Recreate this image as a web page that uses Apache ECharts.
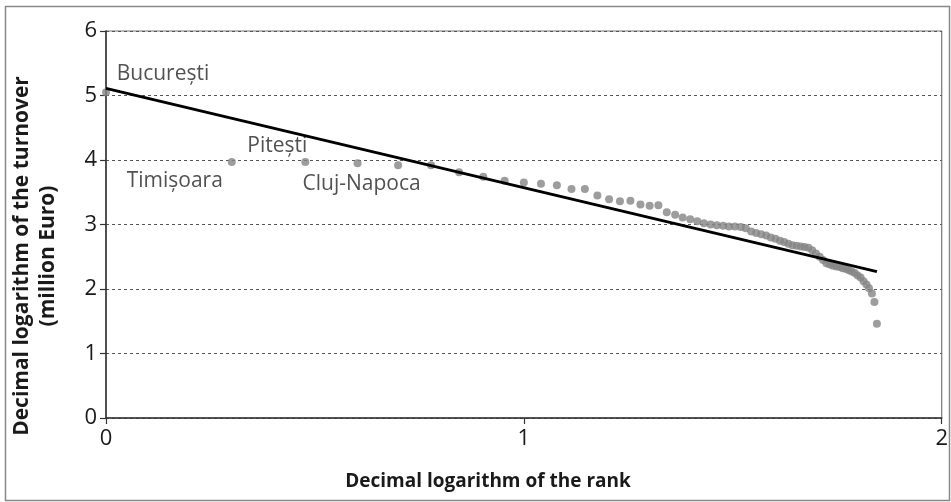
<!DOCTYPE html>
<html>
<head>
<meta charset="utf-8">
<script src="https://cdn.jsdelivr.net/npm/echarts@6/dist/echarts.min.js"></script>
<style>
html,body{margin:0;padding:0;background:#fff;}
#chart{width:951px;height:502px;}
</style>
</head>
<body>
<div id="chart"></div>
<script>
// log10(rank)
var logRank = [0,0.301,0.477,0.602,0.699,0.778,0.845,0.903,0.954,1.000,
  1.041,1.079,1.114,1.146,1.176,1.204,1.230,1.255,1.279,1.301,
  1.322,1.342,1.362,1.380,1.398,1.415,1.431,1.447,1.462,1.477,
  1.491,1.505,1.519,1.531,1.544,1.556,1.568,1.580,1.591,1.602,
  1.613,1.623,1.633,1.643,1.653,1.663,1.672,1.681,1.690,1.699,
  1.708,1.716,1.724,1.732,1.740,1.748,1.756,1.763,1.771,1.778,
  1.785,1.792,1.799,1.806,1.813,1.820,1.826,1.833,1.839,1.845];
// log10(turnover)
var logTurnover = [5.05,3.97,3.97,3.95,3.92,3.92,3.81,3.74,3.68,3.65,
  3.63,3.61,3.55,3.55,3.45,3.39,3.36,3.37,3.31,3.29,
  3.30,3.19,3.15,3.11,3.08,3.05,3.02,3.00,2.99,2.98,
  2.97,2.97,2.96,2.94,2.89,2.87,2.85,2.83,2.80,2.78,
  2.75,2.73,2.70,2.68,2.67,2.66,2.65,2.64,2.60,2.55,
  2.50,2.45,2.40,2.38,2.36,2.35,2.34,2.32,2.31,2.29,
  2.27,2.25,2.21,2.18,2.12,2.07,2.01,1.93,1.80,1.46];
var cityNames = ['București','Timișoara','Pitești','Cluj-Napoca'];
var cityIndex = [0,1,2,3];
var trendX = [0,1.845];
var trendY = [5.11,2.27];
var xTicks = [0,1,2];
var yTicks = [0,1,2,3,4,5,6];

var labelOffsets = [[57,-18],[-57,19],[-28,-16],[4,21]];
var scatterData = logRank.map(function(x,i){
  var item = {value:[x, logTurnover[i]]};
  var k = cityIndex.indexOf(i);
  if (k >= 0) {
    item.label = {show:true, formatter: cityNames[k], position:'inside',
      offset: labelOffsets[k], fontSize:21, color:'#262626',
      fontFamily:'Open Sans', align:'center', verticalAlign:'middle'};
  }
  return item;
});

var chart = echarts.init(document.getElementById('chart'), null, {renderer:'canvas'});
chart.setOption({
  animation:false,
  backgroundColor:'#fff',
  grid:{left:106, right:8, top:31, bottom:84, show:true, borderColor:'#777', borderWidth:1.2},
  xAxis:{type:'value', min:xTicks[0], max:xTicks[xTicks.length-1], interval:1,
    axisLine:{show:true, onZero:false, lineStyle:{color:'#333', width:1.5}},
    axisTick:{show:true, length:6, lineStyle:{color:'#333', width:1.2}},
    axisLabel:{fontSize:22, color:'#1a1a1a', fontFamily:'Open Sans', margin:10},
    splitLine:{show:false}},
  yAxis:{type:'value', min:yTicks[0], max:yTicks[yTicks.length-1], interval:1,
    axisLine:{show:true, onZero:false, lineStyle:{color:'#333', width:1.5}},
    axisTick:{show:true, length:6, lineStyle:{color:'#333', width:1.2}},
    axisLabel:{fontSize:22, color:'#1a1a1a', fontFamily:'Open Sans', margin:9},
    splitLine:{show:true, lineStyle:{color:'#555', type:[3,3], width:1}}},
  graphic:[
    {type:'rect', left:3, top:4, shape:{width:944, height:494}, silent:true, z:-10,
      style:{fill:null, stroke:'#888', lineWidth:1.5}},
    {type:'text', x:488, y:482, style:{text:'Decimal logarithm of the rank', font:'bold 19px "Open Sans"',
      fill:'#1a1a1a', textAlign:'center', textVerticalAlign:'middle'}},
    {type:'text', x:35, y:256, rotation:Math.PI/2,
      style:{text:'Decimal logarithm of the turnover\n(million Euro)', font:'bold 21px "Open Sans"',
      fill:'#1a1a1a', textAlign:'center', textVerticalAlign:'middle', lineHeight:26}}
  ],
  series:[
    {type:'scatter', data:scatterData, symbol:'circle', symbolSize:8,
      itemStyle:{color:'#858585'}, z:2},
    {type:'line', data:trendX.map(function(x,i){return [x, trendY[i]];}),
      symbol:'none', lineStyle:{color:'#000', width:3}, z:3}
  ]
});
</script>
</body>
</html>
